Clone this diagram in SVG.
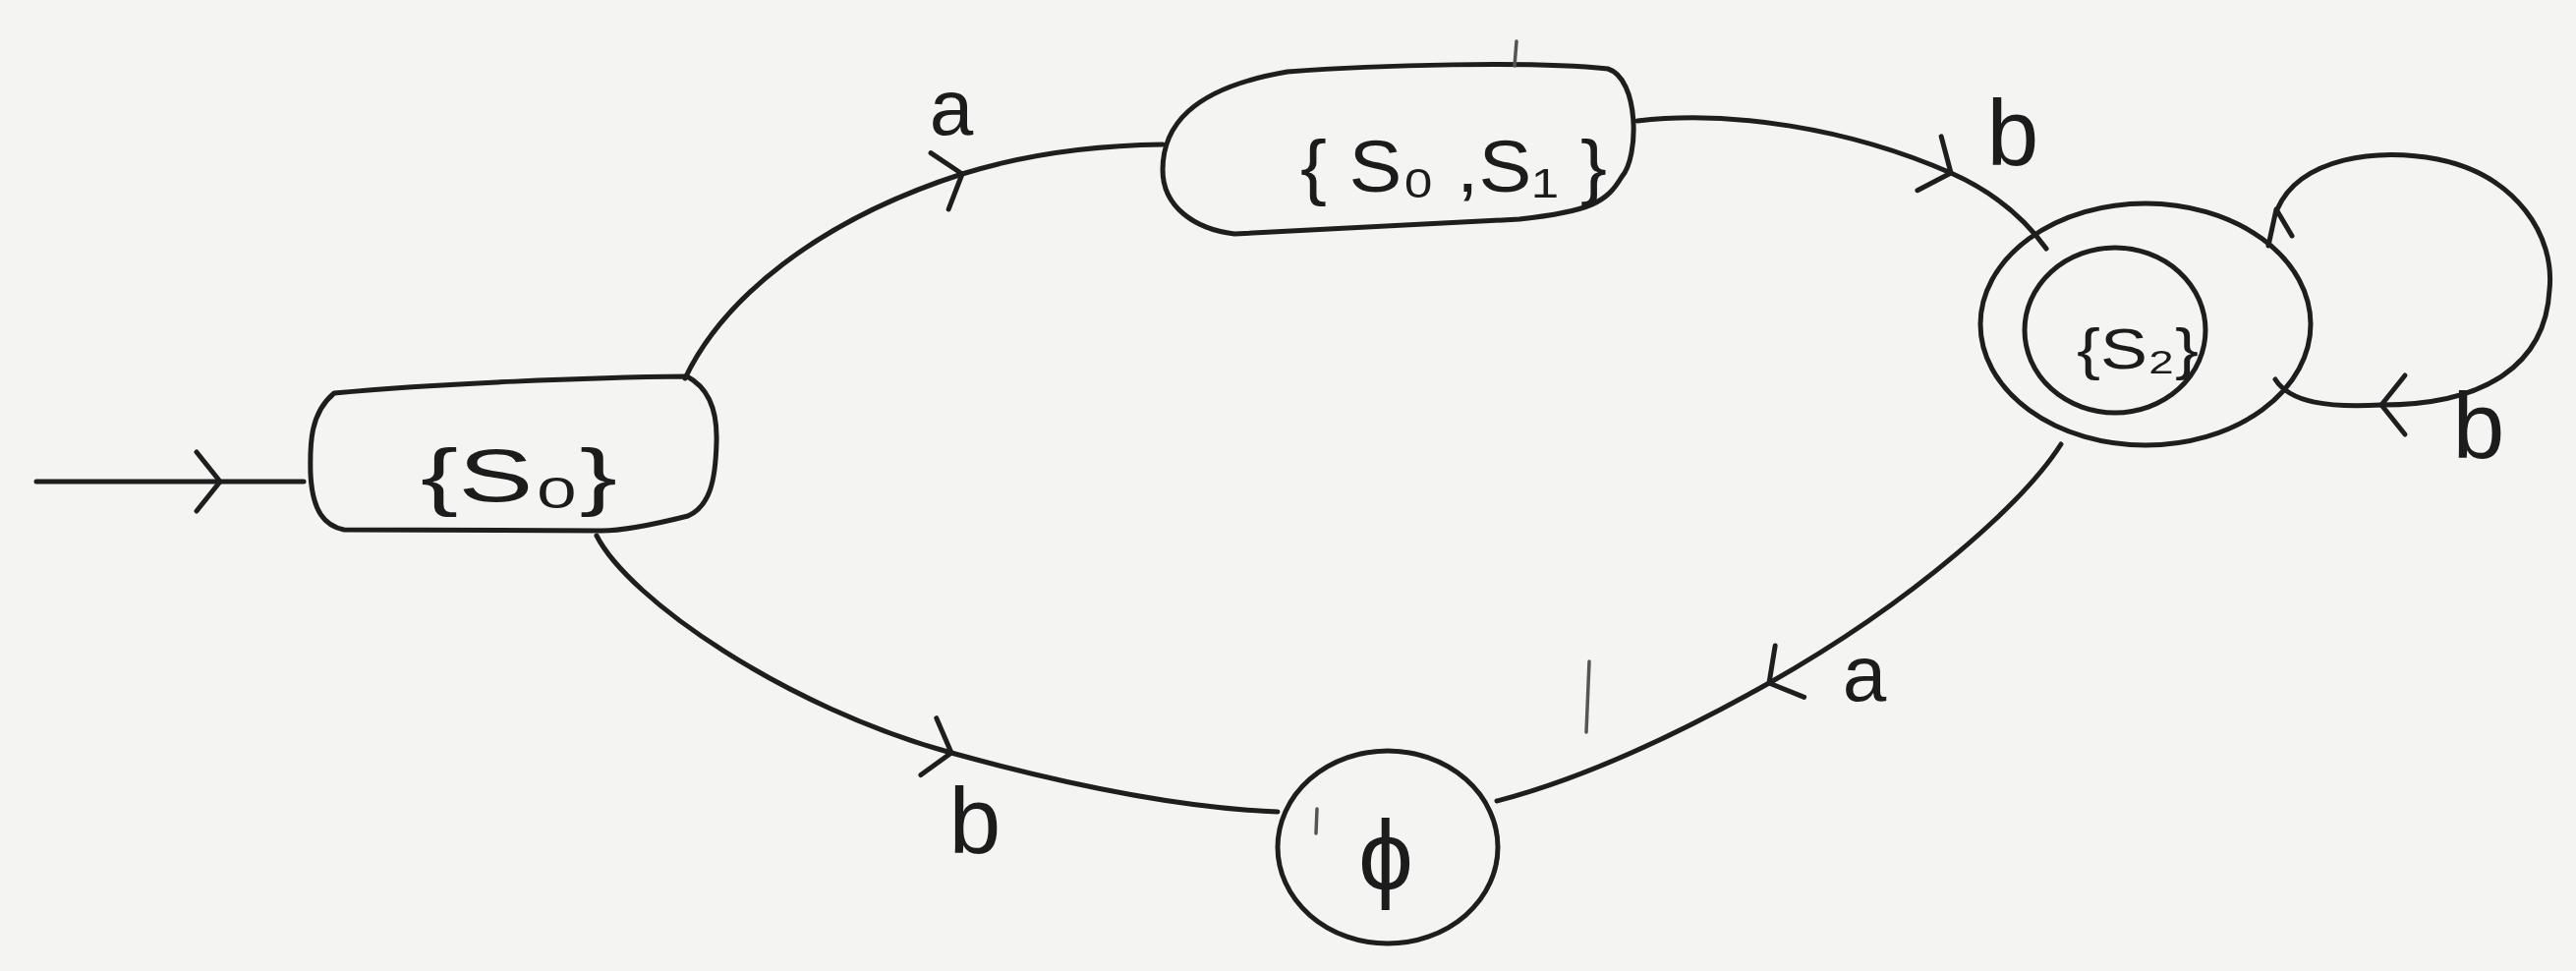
<svg xmlns="http://www.w3.org/2000/svg" width="2621" height="988" viewBox="0 0 2621 988">
  <style>
    .ink { fill: none; stroke: #1e1e1e; stroke-width: 5; stroke-linecap: round; stroke-linejoin: round; }
    .faint { fill: none; stroke: #555; stroke-width: 3.5; stroke-linecap: round; }
    .lbl { font-family: "Liberation Sans", "DejaVu Sans", sans-serif; fill: #1c1c1c; }
    .state { font-family: "Liberation Sans", "DejaVu Sans", sans-serif; fill: #1c1c1c; }
  </style>
  <defs>
    <marker id="chev" markerUnits="userSpaceOnUse" viewBox="-40 -40 50 80" markerWidth="50" markerHeight="80" refX="0" refY="0" orient="auto" overflow="visible">
      <path d="M-24,-30 L0,0 L-24,30" fill="none" stroke="#1e1e1e" stroke-width="5" stroke-linecap="round" stroke-linejoin="round"/>
    </marker>
  </defs>
  <rect x="0" y="0" width="2621" height="988" fill="#f4f4f2"/>

  <g id="connectors">
    <path id="start" class="ink" d="M37,490 L224,490 L309,490" marker-mid="url(#chev)"/>
    <path id="e-s0-s01" class="ink" d="M697,385 C735,305 830,225 979,177 C1040,158 1110,148 1183,147" marker-mid="url(#chev)"/>
    <path id="e-s01-s2" class="ink" d="M1666,123 C1760,112 1880,130 1985,176 C2030,196 2062,225 2082,253" marker-mid="url(#chev)"/>
    <path id="e-s0-phi" class="ink" d="M607,545 C640,610 800,720 968,766 C1080,797 1200,822 1300,826" marker-mid="url(#chev)"/>
    <path id="e-s2-phi" class="ink" d="M2097,452 C2060,510 1950,610 1800,695 C1720,740 1620,790 1523,815" marker-mid="url(#chev)"/>
    <g id="loop-s2">
      <path class="ink" d="M2317,213 C2340,160 2420,150 2480,162 C2560,178 2600,240 2594,295 C2590,370 2530,412 2423,412" marker-end="url(#chev)"/>
      <path class="ink" d="M2423,412 C2370,415 2330,410 2315,386"/>
      <path class="ink" d="M2308,250 L2316,213 L2332,240"/>
    </g>
    <text class="lbl" x="968" y="137" font-size="80" text-anchor="middle">a</text>
    <text class="lbl" x="2048" y="168" font-size="95" text-anchor="middle">b</text>
    <text class="lbl" x="992" y="868" font-size="95" text-anchor="middle">b</text>
    <text class="lbl" x="1897" y="713" font-size="80" text-anchor="middle">a</text>
    <text class="lbl" x="2522" y="466" font-size="95" text-anchor="middle">b</text>
  </g>

  <g id="node-s0">
    <path class="ink" d="M340,400 C450,390 600,384 699,383 C722,395 730,420 729,450 C728,490 722,515 700,525 C660,535 630,540 612,540 L350,539 C330,535 318,520 316,483 C315,450 316,420 340,400 Z"/>
    <text class="state" x="428" y="510" font-size="76" textLength="200" lengthAdjust="spacingAndGlyphs">{S₀}</text>
  </g>

  <g id="node-s0s1">
    <path class="ink" d="M1310,73 C1400,66 1560,62 1636,70 C1668,80 1668,160 1650,180 C1635,205 1620,215 1546,223 L1256,238 C1215,233 1183,210 1183,173 C1183,130 1210,90 1310,73 Z"/>
    <text class="state" x="1323" y="195" font-size="74" textLength="312" lengthAdjust="spacingAndGlyphs">{ S₀ ,S₁ }</text>
  </g>

  <g id="node-s2">
    <ellipse class="ink" cx="2183" cy="330" rx="168" ry="123"/>
    <ellipse class="ink" cx="2152" cy="336" rx="92" ry="84"/>
    <text class="state" x="2113" y="375" font-size="58" textLength="124" lengthAdjust="spacingAndGlyphs">{S₂}</text>
  </g>

  <g id="node-phi">
    <ellipse class="ink" cx="1412" cy="862" rx="112" ry="98"/>
    <text class="state" x="1410" y="905" font-size="100" text-anchor="middle" font-family="DejaVu Sans, sans-serif">ϕ</text>
  </g>

  <g id="marks">
    <path class="faint" d="M1543,42 L1541,67"/>
    <path class="faint" d="M1617,673 L1614,745"/>
    <path class="faint" d="M1340,823 L1339,848"/>
  </g>
</svg>
